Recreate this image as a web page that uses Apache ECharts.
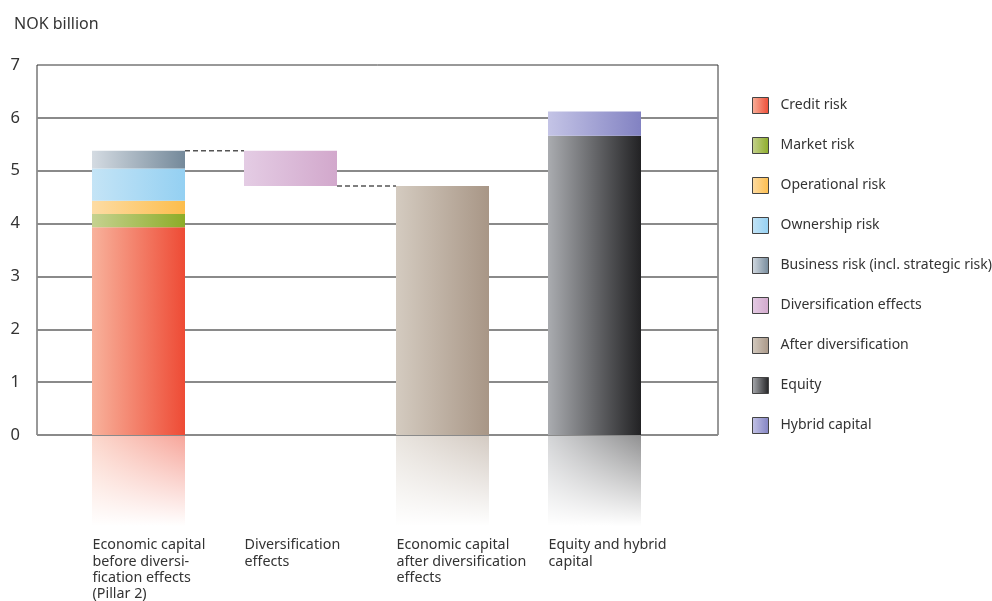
<!DOCTYPE html>
<html>
<head>
<meta charset="utf-8">
<script src="https://cdn.jsdelivr.net/npm/echarts@6/dist/echarts.min.js"></script>
<style>html,body{margin:0;padding:0;background:#fff}#c{width:992px;height:601px}</style>
</head>
<body>
<div id="c"></div>
<script>
const categories = [
  'Economic capital\nbefore diversi-\nfication effects\n(Pillar 2)',
  'Diversification\neffects',
  'Economic capital\nafter diversification\neffects',
  'Equity and hybrid\ncapital'
];
const creditRisk = [3.93, '-', '-', '-'];
const marketRisk = [0.25, '-', '-', '-'];
const operationalRisk = [0.25, '-', '-', '-'];
const ownershipRisk = [0.61, '-', '-', '-'];
const businessRisk = [0.34, '-', '-', '-'];
const diversificationBase = ['-', 4.71, '-', '-'];
const diversificationEffects = ['-', 0.67, '-', '-'];
const afterDiversification = ['-', '-', 4.71, '-'];
const equity = ['-', '-', '-', 5.66];
const hybridCapital = ['-', '-', '-', 0.46];
const yTicks = [0, 1, 2, 3, 4, 5, 6, 7];

const FONT = 'Noto Sans';
const grad = (a, b) => new echarts.graphic.LinearGradient(0, 0, 1, 0, [{offset: 0, color: a}, {offset: 1, color: b}]);
const colors = {
  'Credit risk': grad('#f8b29c', '#ee4b35'),
  'Market risk': grad('#c6d290', '#8cac28'),
  'Operational risk': grad('#fddca4', '#fcbd4c'),
  'Ownership risk': grad('#c4e4f6', '#94d0f2'),
  'Business risk (incl. strategic risk)': grad('#d4dbe2', '#74899a'),
  'Diversification effects': grad('#e4cce4', '#d2a8cc'),
  'After diversification': grad('#d4cbc0', '#a89686'),
  'Equity': grad('#aaacb0', '#222224'),
  'Hybrid capital': grad('#c4c4e6', '#8282c2')
};
const seriesDefs = [
  ['Credit risk', creditRisk],
  ['Market risk', marketRisk],
  ['Operational risk', operationalRisk],
  ['Ownership risk', ownershipRisk],
  ['Business risk (incl. strategic risk)', businessRisk],
  ['base', diversificationBase],
  ['Diversification effects', diversificationEffects],
  ['After diversification', afterDiversification],
  ['Equity', equity],
  ['Hybrid capital', hybridCapital]
];
const BAR_W = 93;
const series = seriesDefs.map(([name, data]) => ({
  name, type: 'bar', stack: 'a', data,
  xAxisIndex: 1, yAxisIndex: 1, barWidth: BAR_W,
  itemStyle: name === 'base' ? {color: 'rgba(0,0,0,0)'} : {color: colors[name]},
  emphasis: {disabled: true}, silent: name === 'base'
}));

// connector lines (dashed), derived from data
const num = v => (typeof v === 'number' ? v : 0);
const total0 = [creditRisk, marketRisk, operationalRisk, ownershipRisk, businessRisk].reduce((s, a) => s + num(a[0]), 0);
const half = BAR_W / 2 / 152;
const dashStyle = {color: '#555', width: 1.5, type: [5, 3]};
series.push({
  type: 'line', xAxisIndex: 2, yAxisIndex: 1, symbol: 'none', silent: true,
  data: [[0 + half, total0], [1 - half, total0]], lineStyle: dashStyle
});
series.push({
  type: 'line', xAxisIndex: 2, yAxisIndex: 1, symbol: 'none', silent: true,
  data: [[1 + half, num(diversificationBase[1])], [2 - half, num(afterDiversification[2])]], lineStyle: dashStyle
});

// reflection
const REFL_MAX = 1.7;
const bottomSeg = [creditRisk[0], '-', afterDiversification[2], equity[3]];
const bottomNames = ['Credit risk', null, 'After diversification', 'Equity'];
series.push({
  type: 'bar', xAxisIndex: 3, yAxisIndex: 2, barWidth: BAR_W, silent: true,
  data: bottomSeg.map((v, i) => v === '-' ? '-' : {value: Math.min(v, REFL_MAX), itemStyle: {color: colors[bottomNames[i]]}})
});
series.push({
  type: 'bar', xAxisIndex: 3, yAxisIndex: 2, barWidth: BAR_W, barGap: '-100%', silent: true,
  data: bottomSeg.map(v => v === '-' ? '-' : Math.min(v, REFL_MAX)),
  itemStyle: {color: new echarts.graphic.LinearGradient(0, 0, 0, 1, [
    {offset: 0, color: 'rgba(255,255,255,0.5)'},
    {offset: 1, color: 'rgba(255,255,255,1)'}
  ])}
});

const hidden = {axisLine: {show: false}, axisTick: {show: false}, axisLabel: {show: false}, splitLine: {show: false}};
const chart = echarts.init(document.getElementById('c'));
chart.setOption({
  animation: false,
  textStyle: {fontFamily: FONT},
  title: {text: 'NOK billion', left: 9, top: 11, textStyle: {fontFamily: FONT, fontSize: 16, fontWeight: 'normal', color: '#333'}},
  legend: {
    data: seriesDefs.map(d => d[0]).filter(n => n !== 'base'),
    orient: 'vertical', left: 752, top: 97, itemWidth: 16, itemHeight: 16, itemGap: 23,
    icon: 'rect', selectedMode: false, padding: 0,
    itemStyle: {borderColor: '#444', borderWidth: 1},
    textStyle: {fontFamily: FONT, fontSize: 14, lineHeight: 16, color: '#333', padding: [0, 0, 0, 7]}
  },
  grid: [
    {left: 37, right: 274, top: 65, bottom: 166, show: true, borderColor: '#333', borderWidth: 1, outerBoundsMode: 'none'},
    {left: 62.5, width: 608, top: 65, bottom: 166, outerBoundsMode: 'none'},
    {left: 62.5, width: 608, top: 436, height: 90, outerBoundsMode: 'none'},
    {left: 16.5, width: 608, top: 65, bottom: 166, outerBoundsMode: 'none'}
  ],
  xAxis: [
    Object.assign({type: 'value', gridIndex: 0, min: 0, max: 1}, hidden),
    Object.assign({type: 'category', gridIndex: 1, data: categories}, hidden),
    Object.assign({type: 'value', gridIndex: 1, min: -0.5, max: 3.5}, hidden),
    Object.assign({type: 'category', gridIndex: 2, data: categories}, hidden),
    {type: 'category', gridIndex: 3, data: categories, axisLine: {show: false}, axisTick: {show: false}, splitLine: {show: false},
     axisLabel: {align: 'left', verticalAlign: 'top', margin: 102, fontFamily: FONT, fontSize: 14.3, lineHeight: 16.3, color: '#333', interval: 0}}
  ],
  yAxis: [
    {type: 'value', gridIndex: 0, min: yTicks[0], max: yTicks[yTicks.length - 1], interval: 1,
     axisLine: {show: false}, axisTick: {show: false},
     axisLabel: {fontFamily: FONT, fontSize: 16.5, color: '#333', margin: 17},
     splitLine: {show: true, lineStyle: {width: 2, color: yTicks.map((t, i) => i === yTicks.length - 1 ? 'rgba(0,0,0,0)' : '#8a8a8a')}}},
    Object.assign({type: 'value', gridIndex: 1, min: 0, max: 7}, hidden),
    Object.assign({type: 'value', gridIndex: 2, min: 0, max: REFL_MAX, inverse: true}, hidden),
    Object.assign({type: 'value', gridIndex: 3, min: 0, max: 7}, hidden)
  ],
  series
});
</script>
</body>
</html>
